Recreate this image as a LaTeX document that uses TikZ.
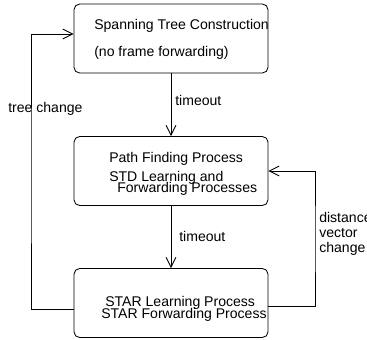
\documentclass[tikz,border=0pt]{standalone}
\usepackage{fontspec}
\setmainfont{Liberation Sans}
\usetikzlibrary{arrows.meta,positioning}
\tikzset{state/.style={draw,line width=0.6pt,rounded corners=4pt,minimum width=4.85cm,minimum height=1.725cm,inner sep=0pt},
  lbl/.style={font=\fontsize{10}{10.6}\selectfont,inner sep=0pt},
  flow/.style={-{Straight Barb[length=7pt,width=7pt]},line width=0.6pt}}

\begin{document}
\begin{tikzpicture}
    \useasboundingbox (0,0) rectangle (9.175,8.475);

    % the three states
    \node [state] (span) at (4.275,7.5125) {};
    \node [state] (path) at (4.275,4.2) {};
    \node [state] (star) at (4.275,0.9) {};

    \node [lbl,anchor=west] (spanA) at (2.35,7.825) {Spanning Tree Construction};
    \node [lbl,anchor=west] (spanB) at (2.35,7.15) {(no frame forwarding)};
    \node [lbl,anchor=west] (pathA) at (2.725,4.5075) {Path Finding Process};
    \node [lbl,anchor=west] (pathB) at (2.725,4.025) {STD Learning and};
    \node [lbl,anchor=west] (pathC) at (2.925,3.75) {Forwarding Processes};
    \node [lbl,anchor=west] (starA) at (2.625,0.9) {STAR Learning Process};
    \node [lbl,anchor=west] (starB) at (2.525,0.6) {STAR Forwarding Process};

    % transitions
    \draw [flow] (span.south) -- (path.north);
    \draw [flow] (path.south) -- (star.north);
    \node [lbl,anchor=west] (to1) at (4.375,5.975) {timeout};
    \node [lbl,anchor=west] (to2) at (4.475,2.575) {timeout};

    \coordinate (tc) at (0.775,4);
    \draw [flow] ([yshift=-0.15cm]star.west) -| (tc) |- ([yshift=0.1125cm]span.west);
    \node [lbl,anchor=west] (tclbl) at (0.2,5.75) {tree change};

    \coordinate (dv) at (7.875,2.5);
    \draw [flow] ([yshift=-0.075cm]star.east) -| (dv) |- (path.east);
    \node [lbl,anchor=north west,align=left] (dvlbl) at (7.975,3.175) {distance\\vector\\change};
\end{tikzpicture}
\end{document}
